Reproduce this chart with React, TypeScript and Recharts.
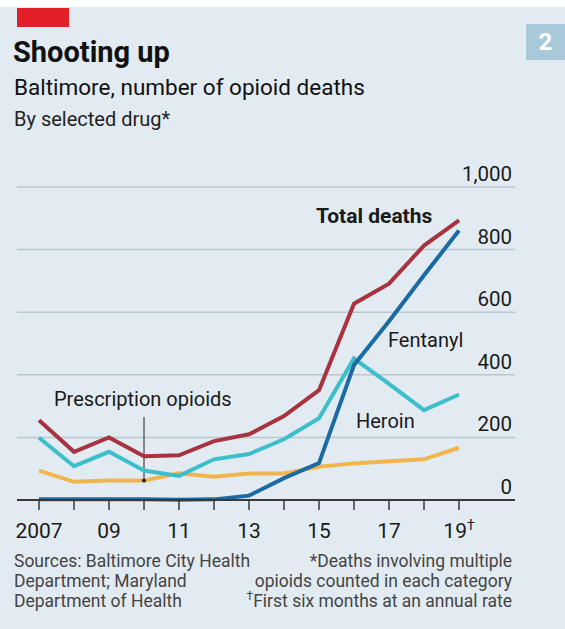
import { LineChart, Line, XAxis, YAxis, CartesianGrid, ReferenceLine, ReferenceDot } from "recharts";

const years = [2007, 2008, 2009, 2010, 2011, 2012, 2013, 2014, 2015, 2016, 2017, 2018, 2019];
const totalDeaths = [255, 154, 200, 140, 143, 188, 210, 268, 351, 627, 691, 813, 893];
const fentanyl = [2, 2, 2, 2, 1, 2, 14, 70, 118, 431, 571, 718, 861];
const heroin = [199, 108, 154, 94, 77, 130, 147, 194, 261, 452, 371, 287, 337];
const prescription = [94, 58, 62, 62, 85, 74, 85, 85, 106, 117, 124, 130, 167];
const yTicks = [0, 200, 400, 600, 800, 1000];
const xLabels: Record<number, string> = { 2007: "2007", 2009: "09", 2011: "11", 2013: "13", 2015: "15", 2017: "17", 2019: "19" };

const data = years.map((year, i) => ({
  year,
  total: totalDeaths[i],
  fentanyl: fentanyl[i],
  heroin: heroin[i],
  prescription: prescription[i],
}));

const FONT = "Roboto, 'Open Sans', sans-serif";
const TEXT = "#1a1a1a";

const XTick = (props: any) => {
  const { x, y, payload } = props;
  const label = xLabels[payload.value];
  if (!label) return null;
  return (
    <text x={x} y={y + 26} textAnchor="middle" fontSize={21} fill={TEXT} fontFamily={FONT}>
      {label}
      {payload.value === 2019 && (
        <tspan dy={-8} fontSize={14}>†</tspan>
      )}
    </text>
  );
};

const YTick = (props: any) => {
  const { y, payload } = props;
  return (
    <text x={512} y={y - 6} textAnchor="end" fontSize={20.5} fill={TEXT} fontFamily={FONT}>
      {payload.value.toLocaleString("en-US")}
    </text>
  );
};

const label = (left: number, top: number, text: string, bold = false) => (
  <div
    style={{
      position: "absolute",
      left,
      top,
      fontSize: bold ? 21 : 20,
      fontWeight: bold ? 700 : 400,
      color: TEXT,
      whiteSpace: "nowrap",
      lineHeight: 1,
    }}
  >
    {text}
  </div>
);

export default function App() {
  return (
    <div
      style={{
        position: "absolute",
        left: 0,
        top: 0,
        width: 565,
        height: 629,
        background: "#e2ebf2",
        fontFamily: FONT,
        overflow: "hidden",
      }}
    >
      <div style={{ position: "absolute", left: 0, top: 0, width: 565, height: 7, background: "#fff" }} />
      <div style={{ position: "absolute", left: 17, top: 8, width: 52, height: 19, background: "#e3202a" }} />
      <div
        style={{
          position: "absolute",
          left: 526,
          top: 24,
          width: 39,
          height: 36,
          background: "#a9c8d8",
          color: "#fff",
          fontWeight: 700,
          fontSize: 24,
          display: "flex",
          alignItems: "center",
          justifyContent: "center",
        }}
      >
        2
      </div>
      <div style={{ position: "absolute", left: 13, top: 35, fontSize: 29, fontWeight: 700, color: "#111" }}>
        Shooting up
      </div>
      <div style={{ position: "absolute", left: 14, top: 74, fontSize: 22.5, color: "#111" }}>
        Baltimore, number of opioid deaths
      </div>
      <div style={{ position: "absolute", left: 14, top: 107, fontSize: 20, color: "#222" }}>
        By selected drug*
      </div>

      <div style={{ position: "absolute", left: 0, top: 0 }}>
        <LineChart width={565} height={550} data={data} margin={{ top: 187, right: 0, left: 17, bottom: 0 }}>
          <CartesianGrid vertical={false} stroke="#bcc6cd" strokeWidth={1.5} />
          <XAxis
            dataKey="year"
            type="number"
            domain={[2006.371, 2020.6]}
            ticks={years}
            interval={0}
            height={50}
            axisLine={{ stroke: "#3a3a3a", strokeWidth: 2 }}
            tickLine={{ stroke: "#3a3a3a", strokeWidth: 1.5 }}
            tickSize={10}
            tick={<XTick />}
          />
          <YAxis
            orientation="right"
            width={50}
            domain={[0, 1000]}
            ticks={yTicks}
            axisLine={false}
            tickLine={false}
            tick={<YTick />}
          />
          <ReferenceLine
            segment={[
              { x: 2010, y: 265 },
              { x: 2010, y: 62 },
            ]}
            stroke="#222"
            strokeWidth={1}
          />
          <Line type="linear" dataKey="prescription" stroke="#f0b54d" strokeWidth={4} dot={false} isAnimationActive={false} />
          <Line type="linear" dataKey="heroin" stroke="#3dbfcb" strokeWidth={4} dot={false} isAnimationActive={false} />
          <Line type="linear" dataKey="fentanyl" stroke="#1b6aa3" strokeWidth={4} dot={false} isAnimationActive={false} />
          <Line type="linear" dataKey="total" stroke="#a6333f" strokeWidth={4} dot={false} isAnimationActive={false} />
          <ReferenceDot x={2010} y={62} r={2} fill="#222" stroke="none" />
        </LineChart>
      </div>

      {label(316, 206, "Total deaths", true)}
      {label(388, 330, "Fentanyl")}
      {label(356, 411, "Heroin")}
      {label(54, 389, "Prescription opioids")}

      <div style={{ position: "absolute", left: 14, top: 551, fontSize: 17.5, lineHeight: "20px", color: "#444" }}>
        Sources: Baltimore City Health
        <br />
        Department; Maryland
        <br />
        Department of Health
      </div>
      <div
        style={{
          position: "absolute",
          right: 53,
          top: 551,
          fontSize: 17.5,
          lineHeight: "20px",
          color: "#444",
          textAlign: "right",
        }}
      >
        *Deaths involving multiple
        <br />
        opioids counted in each category
        <br />
        <sup style={{ fontSize: 12, lineHeight: 0 }}>†</sup>First six months at an annual rate
      </div>
    </div>
  );
}
